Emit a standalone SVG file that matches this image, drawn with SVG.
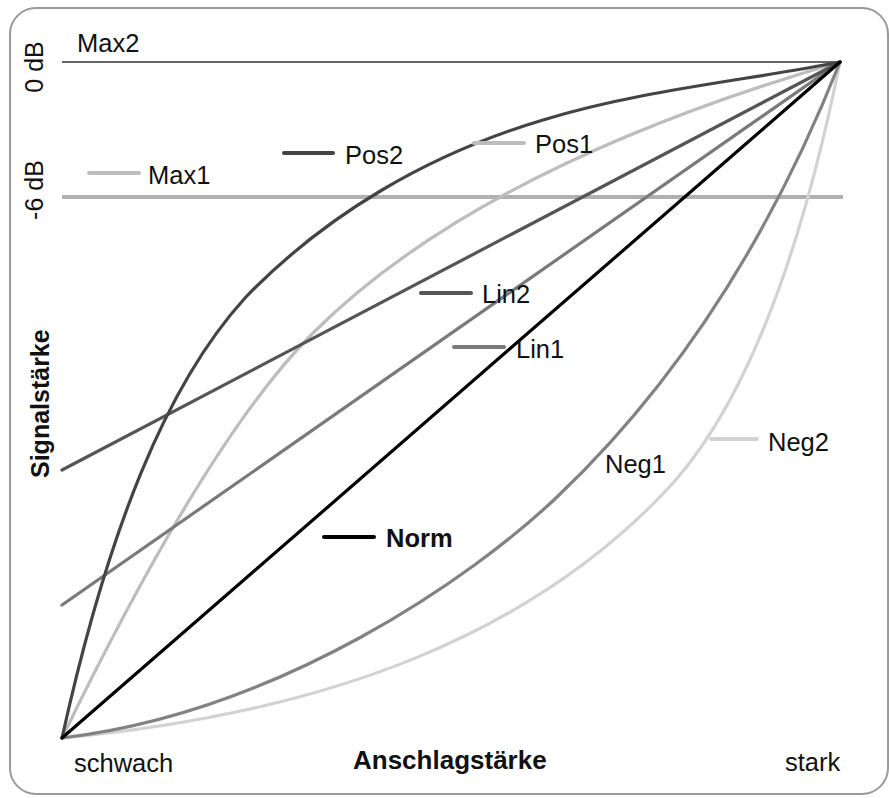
<svg xmlns="http://www.w3.org/2000/svg" width="889" height="798" viewBox="0 0 889 798">
<style>
text{font-family:"Liberation Sans",Arial,sans-serif;font-size:25.5px;fill:#111}
.b{font-weight:bold}
.c{fill:none;stroke-width:3.2;stroke-linecap:round;stroke-linejoin:round}
.k{stroke-width:4;stroke-linecap:round}
</style>
<rect x="10" y="8" width="878" height="786" rx="26" ry="26" fill="#fff" stroke="#9a9a9a" stroke-width="2"/>
<g id="grid">
<line x1="62" y1="62" x2="840" y2="62" stroke="#666" stroke-width="2"/>
<line x1="62" y1="197" x2="843" y2="197" stroke="#b0b0b0" stroke-width="4"/>
</g>
<g id="curves">
<g id="neg2"><path class="c" stroke="#d2d2d2" stroke-width="3.6" d="M62,738 C340,712 530,630 660,497 C737,420 797,275 840,62"/></g>
<g id="neg1"><path class="c" stroke="#828282" d="M62,738 C280,712 473,577 557,497 C674,386 769,241 840,62"/></g>
<g id="pos1"><path class="c" stroke="#bdbdbd" d="M62,738 C159,538 243,403 313,333 C424,222 600,132 840,62"/></g>
<g id="lin1"><line class="c" stroke="#7a7a7a" x1="62" y1="605" x2="840" y2="62"/></g>
<g id="lin2"><line class="c" stroke="#555" x1="62" y1="470" x2="840" y2="62"/></g>
<g id="pos2"><path class="c" stroke="#444" d="M62,738 C108,530 166,385 245,298 C326,214 429,154 543,120 C640,90 750,80 840,62"/></g>
<g id="norm"><line class="c" stroke="#000" stroke-width="3.6" x1="62" y1="738" x2="840" y2="62"/></g>
</g>
<g id="legend-max2"><text x="77" y="52">Max2</text></g>
<g id="legend-max1"><line class="k" x1="89" y1="173" x2="139" y2="173" stroke="#bdbdbd"/><text x="148" y="184">Max1</text></g>
<g id="legend-pos2"><line class="k" x1="284" y1="153" x2="333" y2="153" stroke="#444"/><text x="345" y="164">Pos2</text></g>
<g id="legend-pos1"><line class="k" x1="474" y1="143" x2="524" y2="143" stroke="#bdbdbd"/><text x="535" y="153">Pos1</text></g>
<g id="legend-lin2"><line class="k" x1="421" y1="293" x2="471" y2="293" stroke="#555"/><text x="482" y="303">Lin2</text></g>
<g id="legend-lin1"><line class="k" x1="454" y1="347" x2="504" y2="347" stroke="#7a7a7a"/><text x="516" y="358">Lin1</text></g>
<g id="legend-norm"><line class="k" x1="324" y1="537" x2="374" y2="537" stroke="#000"/><text class="b" x="386" y="547">Norm</text></g>
<g id="legend-neg1"><text x="605" y="473">Neg1</text></g>
<g id="legend-neg2"><line class="k" x1="711" y1="439" x2="757" y2="439" stroke="#d2d2d2"/><text x="768" y="451">Neg2</text></g>
<g id="axis-labels">
<text transform="translate(43,67) rotate(-90)" text-anchor="middle" style="font-size:25px">0 dB</text>
<text transform="translate(43,190) rotate(-90)" text-anchor="middle" style="font-size:25px">-6 dB</text>
<text class="b" transform="translate(49,478) rotate(-90)" style="font-size:25px">Signalstärke</text>
<text x="74" y="772">schwach</text>
<text class="b" x="353" y="769" style="font-size:26px">Anschlagstärke</text>
<text x="785" y="771">stark</text>
</g>
</svg>
